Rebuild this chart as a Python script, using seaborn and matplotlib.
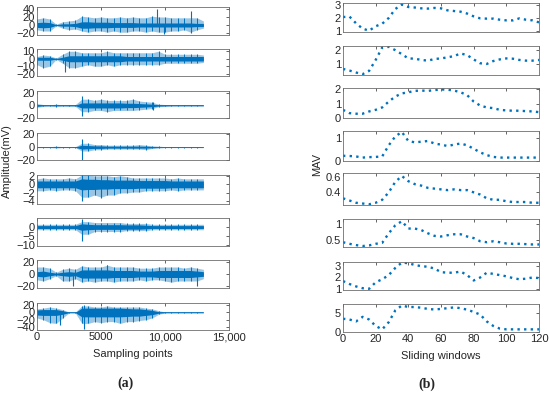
import numpy as np
import matplotlib
matplotlib.use("Agg")
import matplotlib.pyplot as plt
from matplotlib.ticker import FixedLocator, FixedFormatter, FormatStrFormatter
import seaborn as sns

sns.set_theme(style="white")
plt.rcParams['font.family'] = ['Liberation Sans', 'DejaVu Sans']

# %% (a) raw EMG, envelope every 500 samples
samples = list(range(0, 13001, 500))

emg1_hi = [15, 18, 15, 2, 8, 10, 12, 22, 20, 18, 20, 18, 18, 20, 18, 20, 18, 18, 22, 20, 20, 18, 18, 18, 18, 18, 10]
emg1_lo = [-12, -15, -15, -2, -8, -12, -10, -15, -18, -15, -15, -18, -15, -18, -18, -15, -15, -18, -15, -18, -18, -15, -15, -12, -18, -12, -8]
emg1_core = [6, 7, 6, 1, 3, 3, 4, 8, 8, 7, 7, 7, 6, 6, 6, 6, 5, 5, 5, 5, 5, 5, 5, 5, 5, 4, 4]
emg1_spike_at = [9400, 9900, 12000, 12000]
emg1_spike_amp = [40, -22, 36, -20]

emg2_hi = [3, 5, 4, 1, 6, 10, 10, 8, 8, 8, 8, 10, 8, 8, 8, 8, 8, 8, 8, 10, 6, 6, 6, 6, 6, 6, 5]
emg2_lo = [-8, -12, -10, -1, -6, -12, -12, -10, -8, -10, -10, -8, -10, -8, -8, -8, -8, -8, -8, -8, -6, -6, -6, -6, -6, -6, -5]
emg2_core = [2, 2, 2, 0.5, 2, 4, 4, 4, 4, 4, 4, 4, 4, 4, 3, 3, 3, 3, 3, 3, 3, 3, 3, 3, 3, 3, 3]
emg2_spike_at = [2200]
emg2_spike_amp = [-17]

emg3_hi = [3, 1.5, 1, 2, 1, 1.5, 1.5, 10, 10, 8, 10, 8, 8, 8, 8, 10, 7, 6, 5, 2, 1.5, 1, 1, 1, 1, 1, 1]
emg3_lo = [-3, -1.5, -1, -2, -1, -1.5, -1.5, -10, -10, -8, -8, -10, -8, -8, -8, -8, -7, -6, -5, -2, -1.5, -1, -1, -1, -1, -1, -1]
emg3_core = [1.5, 0.5, 0.5, 0.5, 0.5, 0.5, 0.5, 4, 4, 4, 4, 4, 4, 4, 3.5, 3.5, 3, 2.5, 2, 1, 0.7, 0.5, 0.5, 0.5, 0.5, 0.5, 0.5]
emg3_spike_at = [3550, 3550, 9100, 9100]
emg3_spike_amp = [15, -17, 5, -8]

emg4_hi = [0.8, 0.8, 0.8, 1.5, 0.8, 0.8, 0.8, 6, 6, 4, 4, 3, 3, 3, 3, 3, 4, 3, 2, 1.5, 0.8, 0.8, 0.8, 0.8, 0.8, 0.8, 0.8]
emg4_lo = [-0.8, -0.8, -0.8, -1.5, -0.8, -0.8, -0.8, -6, -6, -4, -4, -3, -3, -3, -3, -3, -3, -4, -2, -1.5, -0.8, -0.8, -0.8, -0.8, -0.8, -0.8, -0.8]
emg4_core = [0.3, 0.3, 0.3, 0.5, 0.3, 0.3, 0.3, 3, 2.5, 2, 2, 1.5, 1.5, 1.5, 1.5, 1.5, 1.5, 1.5, 1, 0.5, 0.3, 0.3, 0.3, 0.3, 0.3, 0.3, 0.3]
emg4_spike_at = [3550, 3550]
emg4_spike_amp = [13, -20]

emg5_hi = [1.3, 1.5, 1.3, 1.3, 1.3, 1.5, 1.3, 2.2, 2.2, 2, 2, 2, 1.8, 2, 1.8, 1.5, 1.5, 1.5, 1.5, 1.5, 1.5, 1.3, 1.5, 1.3, 1.3, 1.3, 1.3]
emg5_lo = [-1.5, -1.5, -1.3, -1.5, -1.3, -1.3, -1.5, -3, -3, -2.5, -3, -2.5, -2.5, -2, -2, -1.8, -1.8, -1.5, -1.5, -1.5, -1.5, -1.3, -1.5, -1.3, -1.3, -1.3, -1.3]
emg5_core = [0.8, 0.8, 0.8, 0.8, 0.8, 0.8, 0.8, 1.3, 1.2, 1.2, 1.1, 1.1, 1.0, 1.0, 1.0, 1.0, 0.9, 0.9, 0.9, 0.9, 0.9, 0.8, 0.8, 0.8, 0.8, 0.8, 0.8]
emg5_spike_at = [3550, 3550, 5000]
emg5_spike_amp = [2.6, -4.0, -3.2]

emg6_hi = [1.5, 1.5, 1.5, 1.5, 1.5, 1.5, 1.5, 3, 3, 2.5, 2.5, 2.5, 2.5, 2.5, 2, 2, 2, 2, 1.5, 1.5, 1.5, 1.5, 1.5, 1.5, 1.5, 1.5, 1.5]
emg6_lo = [-1.5, -1.5, -1.5, -1.5, -1.5, -1.5, -1.5, -4, -4, -2.5, -2.5, -2.5, -2.5, -2.5, -2, -2, -2, -2, -1.5, -1.5, -1.5, -1.5, -1.5, -1.5, -1.5, -1.5, -1.5]
emg6_core = [0.8, 0.8, 0.8, 0.8, 0.8, 0.8, 0.8, 1.8, 1.5, 1.3, 1.3, 1.3, 1.3, 1.3, 1.2, 1.2, 1.2, 1.0, 0.8, 0.8, 0.8, 0.8, 0.8, 0.8, 0.8, 0.8, 0.8]
emg6_spike_at = [3550, 3550]
emg6_spike_amp = [4.3, -7.8]

emg7_hi = [12, 12, 10, 3, 8, 10, 8, 14, 12, 12, 12, 15, 12, 12, 12, 12, 10, 10, 10, 12, 12, 12, 12, 10, 12, 10, 8]
emg7_lo = [-10, -12, -8, -3, -12, -12, -8, -14, -12, -14, -12, -12, -14, -12, -12, -12, -10, -12, -10, -10, -12, -14, -12, -12, -12, -12, -8]
emg7_core = [4, 5, 3, 1.5, 3, 4, 3, 7, 7, 7, 7, 7, 6, 6, 6, 6, 5, 5, 5, 6, 6, 6, 6, 6, 6, 5, 4]
emg7_spike_at = [2800, 12500, 5500]
emg7_spike_amp = [-20, -20, 16]

emg8_hi = [10, 12, 15, 12, 8, 1.5, 1.5, 18, 18, 15, 15, 18, 15, 15, 15, 15, 15, 12, 10, 5, 1.5, 1.5, 1.5, 1.5, 1.5, 1.5, 1.5]
emg8_lo = [-15, -20, -28, -30, -15, -1.5, -1.5, -30, -30, -25, -28, -25, -25, -30, -25, -25, -22, -20, -15, -5, -1.5, -1.5, -1.5, -1.5, -1.5, -1.5, -1.5]
emg8_core = [7, 8, 8, 8, 5, 0.5, 0.5, 12, 12, 12, 12, 12, 12, 12, 11, 10, 10, 8, 6, 2, 0.5, 0.5, 0.5, 0.5, 0.5, 0.5, 0.5]
emg8_spike_at = [3700, 3700, 1800]
emg8_spike_amp = [-45, 20, -33]

emg_ylims = [(-25, 45), (-23, 13), (-20, 23), (-20, 22), (-4.6, 2.2), (-10.5, 5), (-24, 24), (-48, 26)]
emg_yticks = [[-20, 0, 20, 40], [-20, -10, 0, 10], [-20, 0, 20], [-20, 0, 20], [-4, -2, 0, 2],
              [-10, -5, 0], [-20, 0, 20], [-40, -20, 0, 20]]
sample_ticks = [0, 5000, 10000, 15000]
sample_labels = ['0', '5000', '10,000', '15,000']

# %% (b) MAV per sliding window
windows = list(range(0, 121, 4))
mav1 = [2.07, 2.1, 1.6, 1.2, 1.05, 1.38, 1.57, 2.0, 2.67, 3.0, 2.82, 2.78, 2.72, 2.7, 2.75, 2.72,
        2.57, 2.52, 2.47, 2.33, 2.12, 1.97, 1.95, 1.95, 1.87, 1.82, 1.82, 1.97, 1.87, 1.82, 1.67]
mav2 = [0.64, 0.52, 0.38, 0.26, 0.5, 1.29, 2.19, 2.24, 2.0, 1.71, 1.4, 1.38, 1.29, 1.24, 1.36, 1.4,
        1.48, 1.57, 1.76, 1.64, 1.33, 1.05, 1.0, 1.21, 1.33, 1.4, 1.38, 1.29, 1.24, 1.24, 1.29]
mav3 = [0.57, 0.34, 0.3, 0.3, 0.46, 0.57, 0.74, 1.15, 1.5, 1.72, 1.8, 1.9, 1.92, 1.9, 1.95, 2.0,
        1.98, 1.92, 1.8, 1.6, 1.15, 0.87, 0.74, 0.69, 0.57, 0.53, 0.51, 0.51, 0.48, 0.46, 0.41]
mav4 = [0.23, 0.22, 0.2, 0.15, 0.17, 0.18, 0.2, 0.69, 1.08, 1.28, 0.88, 0.82, 0.85, 0.88, 0.77, 0.72,
        0.66, 0.72, 0.77, 0.69, 0.54, 0.38, 0.26, 0.18, 0.15, 0.15, 0.15, 0.15, 0.15, 0.15, 0.15]
mav5 = [0.32, 0.29, 0.26, 0.25, 0.24, 0.26, 0.3, 0.4, 0.54, 0.62, 0.55, 0.51, 0.49, 0.46, 0.45, 0.44,
        0.43, 0.44, 0.43, 0.43, 0.4, 0.37, 0.32, 0.3, 0.3, 0.28, 0.27, 0.27, 0.27, 0.26, 0.26]
mav6 = [0.42, 0.37, 0.33, 0.3, 0.32, 0.37, 0.4, 0.7, 0.95, 1.08, 0.85, 0.85, 0.8, 0.7, 0.62, 0.6,
        0.64, 0.67, 0.67, 0.6, 0.55, 0.45, 0.42, 0.45, 0.42, 0.38, 0.37, 0.37, 0.36, 0.35, 0.35]
mav7 = [1.7, 1.45, 1.25, 1.1, 1.05, 1.6, 1.85, 2.2, 2.8, 3.25, 3.2, 3.05, 2.95, 2.9, 2.75, 2.45,
        2.4, 2.4, 2.5, 2.2, 1.75, 2.0, 2.4, 2.3, 2.2, 2.1, 1.95, 1.85, 1.9, 2.0, 1.95]
mav8 = [3.5, 3.3, 2.8, 4.0, 3.3, 1.6, 0.7, 2.6, 5.7, 7.0, 6.6, 6.6, 6.4, 6.1, 5.95, 6.1,
        6.3, 6.5, 6.3, 5.9, 5.3, 4.6, 2.8, 1.6, 0.9, 0.7, 0.7, 0.7, 0.7, 0.7, 0.7]

mav_ylims = [(0.95, 3.12), (0.2, 2.3), (0, 2.1), (0, 1.32), (0.23, 0.66), (0.27, 1.15), (0.95, 3.3), (0, 7.4)]
mav_yticks = [[1, 2, 3], [1, 2], [0, 1, 2], [0, 1], [0.4, 0.6], [0.5, 1], [1, 2, 3], [0, 5]]
window_ticks = [0, 20, 40, 60, 80, 100, 120]

emg_hi = [emg1_hi, emg2_hi, emg3_hi, emg4_hi, emg5_hi, emg6_hi, emg7_hi, emg8_hi]
emg_lo = [emg1_lo, emg2_lo, emg3_lo, emg4_lo, emg5_lo, emg6_lo, emg7_lo, emg8_lo]
emg_core = [emg1_core, emg2_core, emg3_core, emg4_core, emg5_core, emg6_core, emg7_core, emg8_core]
emg_spike_at = [emg1_spike_at, emg2_spike_at, emg3_spike_at, emg4_spike_at,
                emg5_spike_at, emg6_spike_at, emg7_spike_at, emg8_spike_at]
emg_spike_amp = [emg1_spike_amp, emg2_spike_amp, emg3_spike_amp, emg4_spike_amp,
                 emg5_spike_amp, emg6_spike_amp, emg7_spike_amp, emg8_spike_amp]
mavs = [mav1, mav2, mav3, mav4, mav5, mav6, mav7, mav8]

# %% layout (pixel boxes measured on the 550x394 picture)
W, H = 550, 394
left_x = (37, 229)
right_x = (343, 539)
left_rows = [(7, 35), (49, 76), (91, 118), (133, 160), (175, 204), (218, 246), (260, 288), (303, 330)]
right_rows = [(3, 32), (46, 75), (88, 118), (131, 161), (173, 205), (219, 247), (262, 290), (304, 332)]
blue = '#0072BD'


def make_ax(fig, xs, row):
    x0, x1 = xs
    t, b = row
    ax = fig.add_axes([x0 / W, 1 - b / H, (x1 - x0) / W, (b - t) / H])
    ax.tick_params(direction='in', length=2.5, width=0.5, top=True, right=True,
                   labelsize=8, pad=1.5, colors='#262626')
    for s in ax.spines.values():
        s.set_linewidth(0.6)
        s.set_color('#6e6e6e')
    return ax


fig = plt.figure(figsize=(W / 100, H / 100), dpi=100)

for i in range(8):
    ax = make_ax(fig, left_x, left_rows[i])
    hi = np.array(emg_hi[i])
    lo = np.array(emg_lo[i])
    core = np.array(emg_core[i])
    ax.fill_between(samples, lo, hi, color=blue, alpha=0.4, lw=0)
    ax.vlines(samples[:-1], lo[:-1], hi[:-1], color=blue, lw=0.7)
    ax.fill_between(samples, -core, core, color=blue, lw=0)
    ax.vlines(emg_spike_at[i], 0, emg_spike_amp[i], color=blue, lw=0.8)
    ax.plot(samples, np.zeros(len(samples)), color=blue, lw=0.6)
    ax.set_xlim(0, 15000)
    ax.set_ylim(*emg_ylims[i])
    ax.yaxis.set_major_locator(FixedLocator(emg_yticks[i]))
    ax.xaxis.set_major_locator(FixedLocator(sample_ticks))
    if i == 7:
        ax.xaxis.set_major_formatter(FixedFormatter(sample_labels))
    else:
        ax.set_xticklabels([])

for i in range(8):
    ax = make_ax(fig, right_x, right_rows[i])
    sns.lineplot(x=windows, y=mavs[i], ax=ax, color=blue, linewidth=1.7)
    ln = ax.lines[-1]
    ln.set_linestyle((0, (1, 1.8)))
    ln.set_dash_capstyle('butt')
    ax.set_xlim(0, 120)
    ax.set_ylim(*mav_ylims[i])
    ax.yaxis.set_major_locator(FixedLocator(mav_yticks[i]))
    ax.yaxis.set_major_formatter(FormatStrFormatter('%g'))
    ax.xaxis.set_major_locator(FixedLocator(window_ticks))
    ax.set_xlabel('')
    ax.set_ylabel('')
    if i != 7:
        ax.set_xticklabels([])

fig.text(7 / W, 1 - 161 / H, 'Amplitude(mV)', rotation=90, ha='center', va='center', fontsize=8)
fig.text(317 / W, 1 - 164 / H, 'MAV', rotation=90, ha='center', va='center', fontsize=8)
fig.text(133 / W, 1 - 354 / H, 'Sampling points', ha='center', va='center', fontsize=8)
fig.text(441 / W, 1 - 356 / H, 'Sliding windows', ha='center', va='center', fontsize=8)
fig.text(126 / W, 1 - 383 / H, '(a)', ha='center', va='center', fontsize=10,
         family='Liberation Serif', fontweight='bold')
fig.text(427 / W, 1 - 384 / H, '(b)', ha='center', va='center', fontsize=10,
         family='Liberation Serif', fontweight='bold')

fig.savefig('out.png', dpi=100)
